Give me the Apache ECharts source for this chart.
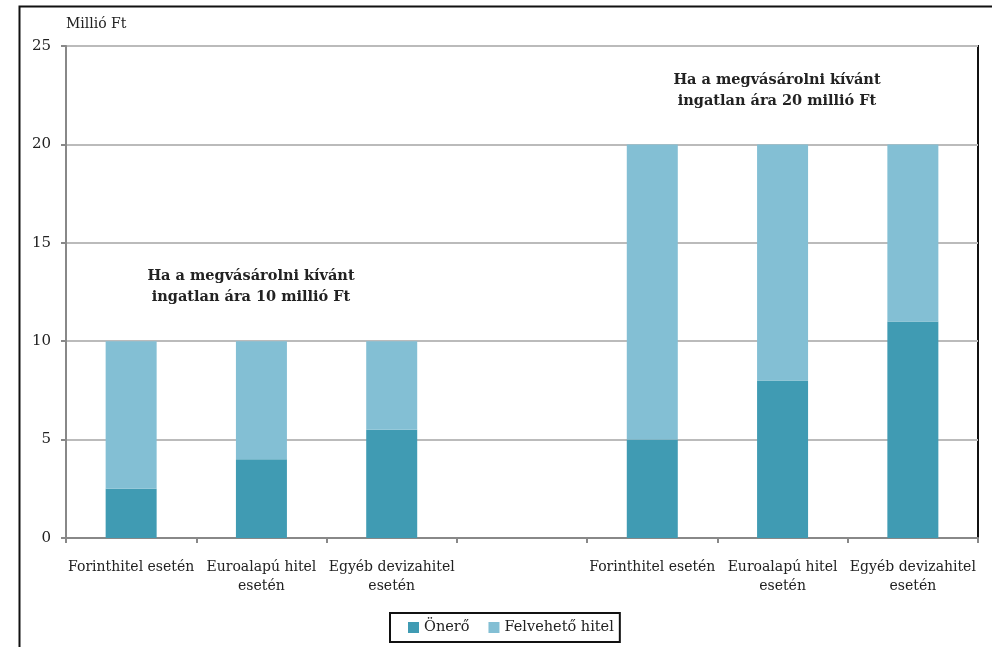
<!DOCTYPE html>
<html>
<head>
<meta charset="utf-8">
<script src="https://cdn.jsdelivr.net/npm/echarts@6/dist/echarts.min.js"></script>
<style>
  html, body { margin: 0; padding: 0; background: #fff; }
  #chart { width: 992px; height: 647px; }
</style>
</head>
<body>
<div id="chart"></div>
<script>
// kategóriák (a középső üres hely választja el a két csoportot)
const categories = ['Forinthitel esetén', 'Euroalapú hitel\nesetén', 'Egyéb devizahitel\nesetén', '',
  'Forinthitel esetén', 'Euroalapú hitel\nesetén', 'Egyéb devizahitel\nesetén']
const oneroData = [2.5, 4, 5.5, null, 5, 8, 11]
const hitelData = [7.5, 6, 4.5, null, 15, 12, 9]
const yTicks = [0, 5, 10, 15, 20, 25]

const FONT = 'DejaVu Serif'
const chart = echarts.init(document.getElementById('chart'))

chart.setOption({
  backgroundColor: '#fff',
  textStyle: { fontFamily: FONT, color: '#222' },
  grid: {
    left: 66, right: 14, top: 46, bottom: 109,
    show: true, borderColor: '#111', borderWidth: 2
  },
  legend: {
    bottom: 5,
    left: 390,
    itemWidth: 11,
    itemHeight: 11,
    itemGap: 19,
    itemStyle: { borderWidth: 0 },
    padding: [7, 6, 7, 18],
    borderColor: '#111',
    borderWidth: 2,
    icon: 'rect',
    textStyle: { fontFamily: FONT, fontSize: 14.5, color: '#222' },
    data: ['Önerő', 'Felvehető hitel']
  },
  xAxis: {
    type: 'category',
    data: categories,
    axisLine: { lineStyle: { color: '#888', width: 2 } },
    axisTick: { show: true, interval: 0, length: 5, lineStyle: { color: '#888', width: 2 } },
    axisLabel: { interval: 0, fontSize: 14, color: '#222', margin: 20, lineHeight: 19 }
  },
  yAxis: {
    type: 'value',
    min: yTicks[0],
    max: yTicks[yTicks.length - 1],
    interval: 5,
    name: 'Millió Ft',
    nameLocation: 'end',
    nameGap: 15,
    nameTextStyle: { fontFamily: FONT, fontSize: 14, color: '#222', align: 'left' },
    axisLine: { show: true, lineStyle: { color: '#888', width: 2 } },
    axisTick: { show: true, length: 5, lineStyle: { color: '#888', width: 2 } },
    axisLabel: { fontSize: 15, color: '#222', margin: 15 },
    splitLine: { lineStyle: { color: '#bbb', width: 2 } }
  },
  series: [
    {
      name: 'Önerő',
      type: 'bar',
      stack: 'ar',
      data: oneroData,
      barWidth: 51,
      itemStyle: { color: '#409bb3' }
    },
    {
      name: 'Felvehető hitel',
      type: 'bar',
      stack: 'ar',
      data: hitelData,
      barWidth: 51,
      itemStyle: { color: '#83bfd4' }
    }
  ],
  graphic: [
    {
      type: 'rect',
      left: 17, top: 4,
      shape: { width: 1000, height: 700 },
      style: { fill: 'none', stroke: '#111', lineWidth: 2 },
      silent: true
    },
    {
      type: 'text',
      x: 251, y: 266,
      style: {
        text: 'Ha a megvásárolni kívánt\ningatlan ára 10 millió Ft',
        font: 'bold 14.5px "DejaVu Serif"',
        fill: '#222',
        align: 'center',
        lineHeight: 21
      }
    },
    {
      type: 'text',
      x: 777, y: 70,
      style: {
        text: 'Ha a megvásárolni kívánt\ningatlan ára 20 millió Ft',
        font: 'bold 14.5px "DejaVu Serif"',
        fill: '#222',
        align: 'center',
        lineHeight: 21
      }
    }
  ]
})
</script>
</body>
</html>
